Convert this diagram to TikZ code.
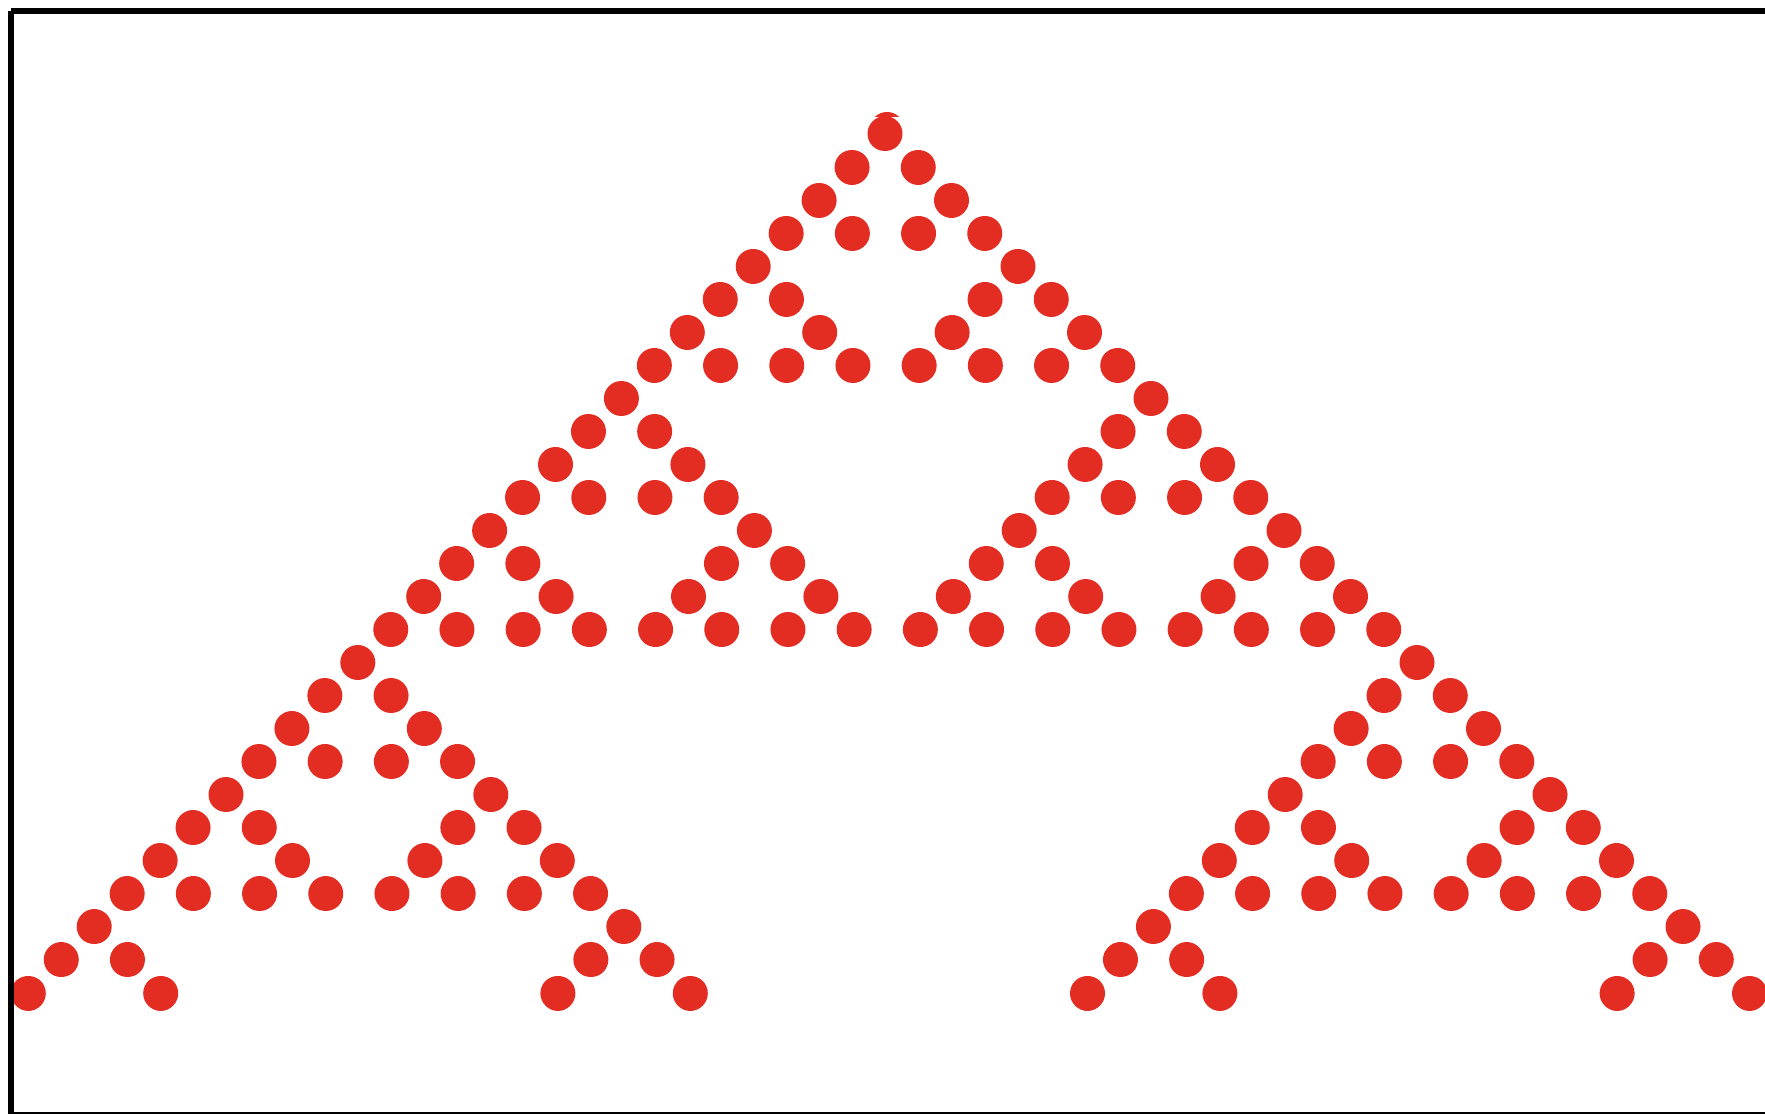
\documentclass[tikz,border=0pt]{standalone}
\definecolor{dotred}{RGB}{227,45,35}
\tikzset{dotstyle/.style={draw=dotred,line width=35pt,line cap=round}}
\begin{document}
\begin{tikzpicture}[x=1pt,y=1pt]
\useasboundingbox (0,0) rectangle (1765,1114);
\clip (0,0) rectangle (1765,1114);
\fill[white] (0,0) rectangle (1765,1114);
\foreach \n in {0,...,26}{
  \foreach \k in {0,...,\n}{
    \pgfmathtruncatemacro\m{\n-\k}
    \pgfmathtruncatemacro\bad{mod(\k,2)*mod(\m,2)+mod(floor(\k/2),2)*mod(floor(\m/2),2)+mod(floor(\k/4),2)*mod(floor(\m/4),2)+mod(floor(\k/8),2)*mod(floor(\m/8),2)+mod(floor(\k/16),2)*mod(floor(\m/16),2)}
    \ifnum\bad=0
      \path[dotstyle] ({885+(2*\k-\n)*33.1+\n*0.15},{1114-134-33.04*\n}) -- ++(0.01,0);
    \fi
  }
}
\begin{scope}
  \clip (860,997) rectangle (912,1003);
  \path[dotstyle] (887,984.5) -- ++(0.01,0);
\end{scope}
\draw[line width=6pt] (11,1103) -- (11,-1) (11,1103) -- (1800,1103) (11,-1) -- (1800,-1);
\end{tikzpicture}
\end{document}
